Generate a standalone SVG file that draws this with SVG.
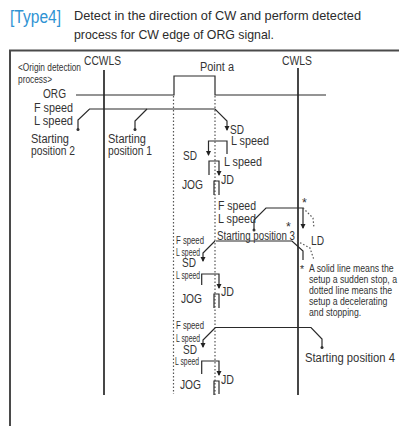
<svg xmlns="http://www.w3.org/2000/svg" width="399" height="426" viewBox="0 0 399 426">
<style>
text{font-family:"Liberation Sans",Arial,sans-serif;fill:#333;font-size:12.5px}
.s{font-size:10.500px}
.h{font-size:13px;fill:#2b2b2b}
.c{fill:none;stroke:#2a2a2a;stroke-width:1.2}
.b{fill:none;stroke:#333;stroke-width:1.8}
.d{fill:none;stroke:#555;stroke-width:1.2;stroke-dasharray:1.5 2}
.f{fill:none;stroke:#4a4a4a;stroke-width:2}
.dot{fill:#333}
</style>
<defs><marker id="a" markerWidth="5" markerHeight="6" refX="4" refY="3" orient="auto" markerUnits="userSpaceOnUse"><path d="M0 0.5L5 3L0 5.5Z" fill="#222"/></marker></defs>
<g id="frame"><path class="f" d="M10 426V50.500H399"/></g>
<g id="title">
<text x="10" y="23" style="font-size:17.5px;fill:#2f93d3" textLength="51" lengthAdjust="spacingAndGlyphs">[Type4]</text>
<text class="h" x="74" y="20" textLength="287" lengthAdjust="spacingAndGlyphs">Detect in the direction of CW and perform detected</text>
<text class="h" x="74" y="39" textLength="200" lengthAdjust="spacingAndGlyphs">process for CW edge of ORG signal.</text>
</g>
<g id="connectors">
<path class="b" d="M104 70V395M298 68V395"/>
<path class="d" d="M173.500 96V394M215 96V395"/>
<path class="c" d="M76 95H174V76H215V95H326"/>
<path class="c" d="M78 129V120L89.500 109H215L227 121V130" marker-end="url(#a)"/>
<path class="c" d="M135 129V121L147 109"/>
<path class="c" d="M227 154V141H208.500V155" marker-end="url(#a)"/>
<path class="c" d="M209 175V161H219V175" marker-end="url(#a)"/>
<path class="c" d="M214 195V181H219V195"/>
<path class="c" d="M254 230V220L266 208H303V228" marker-end="url(#a)"/>
<path class="d" d="M303 208L313 218L314 228"/>
<path class="c" d="M216 241H292L303 251V260"/>
<path class="d" d="M297 241L310 248L314 260"/>
<path class="c" d="M215 241L203 253V261" marker-end="url(#a)"/>
<path class="c" d="M201.700 285V274H219V288" marker-end="url(#a)"/>
<path class="c" d="M214 308V294H219V308"/>
<path class="c" d="M215 327.500H311L322 339V347"/>
<path class="c" d="M215 328L203 340V347" marker-end="url(#a)"/>
<path class="c" d="M201.700 374V361H219V375" marker-end="url(#a)"/>
<path class="c" d="M214 395V381H219V394"/>
<circle class="dot" cx="78" cy="129.500" r="1.500"/>
<circle class="dot" cx="135" cy="129.500" r="1.500"/>
<circle class="dot" cx="254" cy="230" r="1.500"/>
<circle class="dot" cx="322" cy="347.500" r="1.500"/>
</g>
<g id="labels">
<text x="18" y="71" class="s" textLength="63" lengthAdjust="spacingAndGlyphs">&lt;Origin detection</text>
<text x="18" y="83" class="s" textLength="34" lengthAdjust="spacingAndGlyphs">process&gt;</text>
<text x="84" y="65" textLength="37" lengthAdjust="spacingAndGlyphs">CCWLS</text>
<text x="200" y="71" textLength="34" lengthAdjust="spacingAndGlyphs">Point a</text>
<text x="282" y="65" textLength="30" lengthAdjust="spacingAndGlyphs">CWLS</text>
<text x="43" y="98" textLength="23" lengthAdjust="spacingAndGlyphs">ORG</text>
<text x="34" y="112" textLength="39" lengthAdjust="spacingAndGlyphs">F speed</text>
<text x="34" y="125" textLength="39" lengthAdjust="spacingAndGlyphs">L speed</text>
<text x="31" y="143" textLength="38" lengthAdjust="spacingAndGlyphs">Starting</text>
<text x="31" y="155" textLength="44" lengthAdjust="spacingAndGlyphs">position 2</text>
<text x="108" y="143" textLength="38" lengthAdjust="spacingAndGlyphs">Starting</text>
<text x="108" y="155" textLength="44" lengthAdjust="spacingAndGlyphs">position 1</text>
<text x="230" y="134" textLength="14" lengthAdjust="spacingAndGlyphs">SD</text>
<text x="231" y="145" textLength="38" lengthAdjust="spacingAndGlyphs">L speed</text>
<text x="183" y="160" textLength="14" lengthAdjust="spacingAndGlyphs">SD</text>
<text x="224" y="166" textLength="38" lengthAdjust="spacingAndGlyphs">L speed</text>
<text x="182" y="189" textLength="21" lengthAdjust="spacingAndGlyphs">JOG</text>
<text x="221" y="184" textLength="13" lengthAdjust="spacingAndGlyphs">JD</text>
<text x="218" y="210" textLength="38" lengthAdjust="spacingAndGlyphs">F speed</text>
<text x="218" y="223" textLength="38" lengthAdjust="spacingAndGlyphs">L speed</text>
<text x="217" y="240" textLength="78" lengthAdjust="spacingAndGlyphs">Starting position 3</text>
<text x="176" y="244" class="s" textLength="28" lengthAdjust="spacingAndGlyphs">F speed</text>
<text x="176" y="256" class="s" textLength="24" lengthAdjust="spacingAndGlyphs">L speed</text>
<text x="182" y="267" textLength="14" lengthAdjust="spacingAndGlyphs">SD</text>
<text x="176" y="279" class="s" textLength="24" lengthAdjust="spacingAndGlyphs">L speed</text>
<text x="181" y="303" textLength="21" lengthAdjust="spacingAndGlyphs">JOG</text>
<text x="221" y="296" textLength="13" lengthAdjust="spacingAndGlyphs">JD</text>
<text x="176" y="329" class="s" textLength="28" lengthAdjust="spacingAndGlyphs">F speed</text>
<text x="176" y="342" class="s" textLength="24" lengthAdjust="spacingAndGlyphs">L speed</text>
<text x="183" y="354" textLength="14" lengthAdjust="spacingAndGlyphs">SD</text>
<text x="175" y="365" class="s" textLength="24" lengthAdjust="spacingAndGlyphs">L speed</text>
<text x="180" y="389" textLength="21" lengthAdjust="spacingAndGlyphs">JOG</text>
<text x="221" y="384" textLength="13" lengthAdjust="spacingAndGlyphs">JD</text>
<text x="302" y="207">*</text>
<text x="286" y="231">*</text>
<text x="311" y="245" textLength="13" lengthAdjust="spacingAndGlyphs">LD</text>
<text x="300" y="273" class="s">*</text>
<g id="note" transform="translate(309 0) scale(.83 1)">
<text x="0" y="272" class="s">A solid line means the</text>
<text x="0" y="283" class="s">setup a sudden stop, a</text>
<text x="0" y="294" class="s">dotted line means the</text>
<text x="0" y="305" class="s">setup a decelerating</text>
<text x="0" y="316" class="s">and stopping.</text>
</g>
<text x="305" y="362" textLength="90" lengthAdjust="spacingAndGlyphs">Starting position 4</text>
</g>
</svg>
